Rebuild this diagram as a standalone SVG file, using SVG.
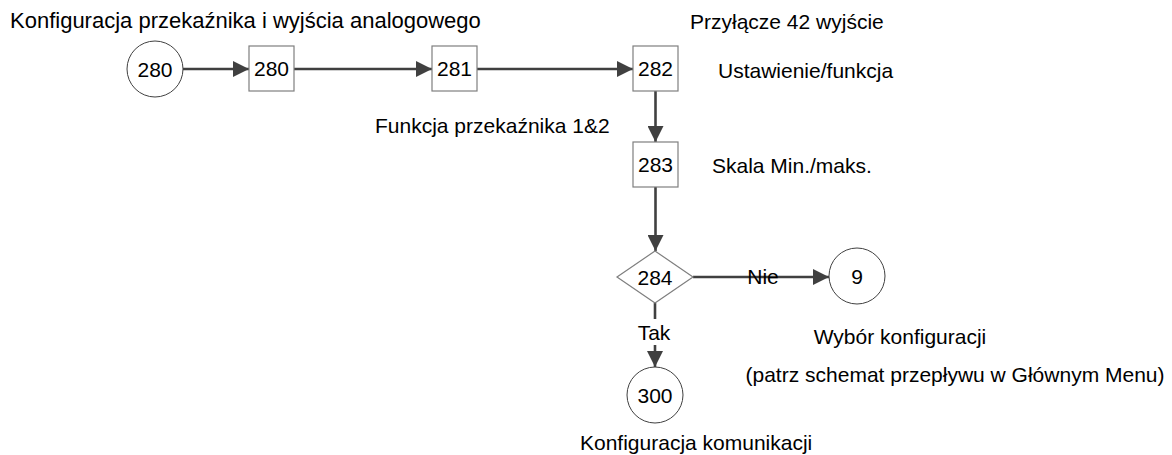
<svg xmlns="http://www.w3.org/2000/svg" width="1172" height="455" viewBox="0 0 1172 455">
<defs>
<style>
text{font-family:"Liberation Sans",Arial,sans-serif;font-size:21px;fill:#000}
.c{text-anchor:middle}
.box{fill:#fff;stroke:#7f7f7f;stroke-width:1.2}
.circ{fill:#fff;stroke:#404040;stroke-width:1}
.ln{fill:none;stroke:#404040;stroke-width:2.6;marker-end:url(#ah)}
</style>
<marker id="ah" markerUnits="userSpaceOnUse" viewBox="0 0 16 16" refX="16" refY="8" markerWidth="16" markerHeight="16" orient="auto">
<path d="M0,0 L16,8 L0,16 Z" fill="#404040"/>
</marker>
</defs>
<rect width="1172" height="455" fill="#fff"/>
<g id="connectors">
<line class="ln" x1="183" y1="69" x2="249" y2="69"/>
<line class="ln" x1="294" y1="69" x2="432" y2="69"/>
<line class="ln" x1="477" y1="69" x2="633" y2="69"/>
<line class="ln" x1="655.5" y1="91" x2="655.5" y2="142"/>
<line class="ln" x1="655.5" y1="187" x2="655.5" y2="251"/>
<line class="ln" x1="693" y1="277" x2="829" y2="277"/>
<text class="c" x="763" y="284">Nie</text>
<line class="ln" x1="655" y1="303" x2="655" y2="367"/>
<rect x="636" y="319" width="38" height="26" fill="#fff"/>
<text class="c" x="654" y="340">Tak</text>
</g>
<g id="n280start">
<circle class="circ" cx="155" cy="69" r="28"/>
<text class="c" x="155" y="76.5">280</text>
</g>
<g id="n280">
<rect class="box" x="249" y="46" width="45" height="45"/>
<text class="c" x="271.5" y="76">280</text>
</g>
<g id="n281">
<rect class="box" x="432" y="46" width="45" height="45"/>
<text class="c" x="454.5" y="76">281</text>
</g>
<g id="n282">
<rect class="box" x="633" y="46" width="45" height="45"/>
<text class="c" x="655.5" y="76">282</text>
</g>
<g id="n283">
<rect class="box" x="633" y="142" width="45" height="45"/>
<text class="c" x="655.5" y="172">283</text>
</g>
<g id="n284">
<polygon class="box" points="617,277 655,251 693,277 655,303"/>
<text class="c" x="655" y="284.5">284</text>
</g>
<g id="n9">
<circle class="circ" cx="857" cy="276" r="28"/>
<text class="c" x="857" y="283.5">9</text>
</g>
<g id="n300">
<circle class="circ" cx="655" cy="395" r="28"/>
<text class="c" x="655" y="402.5">300</text>
</g>
<g id="labels">
<text x="10" y="28" style="font-size:22px">Konfiguracja przekaźnika i wyjścia analogowego</text>
<text x="690" y="29">Przyłącze 42 wyjście</text>
<text x="718" y="78">Ustawienie/funkcja</text>
<text x="375" y="133">Funkcja przekaźnika 1&amp;2</text>
<text x="712" y="173">Skala Min./maks.</text>
<text class="c" x="900" y="344">Wybór konfiguracji</text>
<text class="c" x="955" y="382">(patrz schemat przepływu w Głównym Menu)</text>
<text x="580" y="450">Konfiguracja komunikacji</text>
</g>
</svg>
